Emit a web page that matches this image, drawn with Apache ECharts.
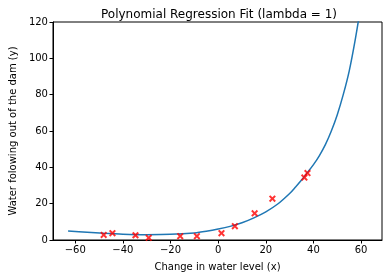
<!DOCTYPE html>
<html>
<head>
<meta charset="utf-8">
<script src="https://cdn.jsdelivr.net/npm/echarts@6/dist/echarts.min.js"></script>
<style>html,body{margin:0;padding:0;background:#fff;}#c{width:392px;height:278px;}</style>
</head>
<body>
<div id="c"></div>
<script>
// Training data (red crosses)
const dataX = [-15.94, -29.15, 36.19, 37.49, -48.06, -8.94, 15.31, -34.71, 1.39, -44.38, 7.01, 22.76];
const dataY = [2.13, 1.17, 34.36, 36.84, 2.81, 2.12, 14.71, 2.61, 3.74, 3.73, 7.63, 22.75];
// Fitted curve
const fitX = [-63, -55, -48, -40, -30, -20, -10, -5, 0, 5, 10, 15, 20, 25, 30, 32.5, 35, 37.5, 40, 42.5, 45, 47.5, 50, 52.5, 55, 57.5, 60, 62.5];
const fitY = [5.0, 4.3, 3.7, 3.2, 2.95, 3.1, 3.9, 4.8, 6.0, 7.5, 9.5, 12.2, 15.5, 19.8, 25.6, 29.2, 33, 37.2, 41.5, 46.5, 52.5, 60, 69, 80, 93, 110, 130, 152];
const xTicks = [-60, -40, -20, 0, 20, 40, 60];
const yTicks = [0, 20, 40, 60, 80, 100, 120];

const font = 'DejaVu Sans';
const fmt = v => String(v).replace('-', '\u2212');
const chart = echarts.init(document.getElementById('c'), null, {renderer: 'canvas'});
chart.setOption({
  animation: false,
  backgroundColor: '#fff',
  title: {
    text: 'Polynomial Regression Fit (lambda = 1)',
    left: 96, top: 4,
    textStyle: {fontFamily: font, fontSize: 12, fontWeight: 'normal', color: '#000'}
  },
  grid: {left: 48, right: 10, top: 22, bottom: 38, show: true, borderColor: '#000', borderWidth: 1, backgroundColor: 'transparent'},
  xAxis: {
    type: 'value', min: -69.34, max: 68.77,
    name: 'Change in water level (x)', nameLocation: 'middle', nameGap: 22,
    nameTextStyle: {fontFamily: font, fontSize: 10, color: '#000'},
    axisLine: {show: true, onZero: false, lineStyle: {color: '#000', width: 1}},
    axisTick: {show: true, length: 3.5, customValues: xTicks, lineStyle: {color: '#000'}},
    axisLabel: {customValues: xTicks, formatter: fmt, fontFamily: font, fontSize: 10, color: '#000', margin: 5},
    splitLine: {show: false}
  },
  yAxis: {
    type: 'value', min: 0, max: 120, interval: 20,
    name: 'Water folowing out of the dam (y)', nameLocation: 'middle', nameGap: 30,
    nameTextStyle: {fontFamily: font, fontSize: 10, color: '#000'},
    axisLine: {show: true, onZero: false, lineStyle: {color: '#000', width: 1}},
    axisTick: {show: true, length: 3.5, customValues: yTicks, lineStyle: {color: '#000'}},
    axisLabel: {customValues: yTicks, formatter: fmt, fontFamily: font, fontSize: 10, color: '#000', margin: 5},
    splitLine: {show: false}
  },
  series: [
    {
      type: 'scatter',
      data: dataX.map((x, i) => [x, dataY[i]]),
      symbol: 'path://M0,2L2,0L5,3L8,0L10,2L7,5L10,8L8,10L5,7L2,10L0,8L3,5Z',
      symbolSize: 7,
      itemStyle: {color: '#ff0000'},
      z: 3
    },
    {
      type: 'line',
      data: fitX.map((x, i) => [x, fitY[i]]),
      smooth: 0.3,
      showSymbol: false,
      clip: true,
      lineStyle: {color: '#1f77b4', width: 1.5},
      z: 2
    }
  ]
});
</script>
</body>
</html>
